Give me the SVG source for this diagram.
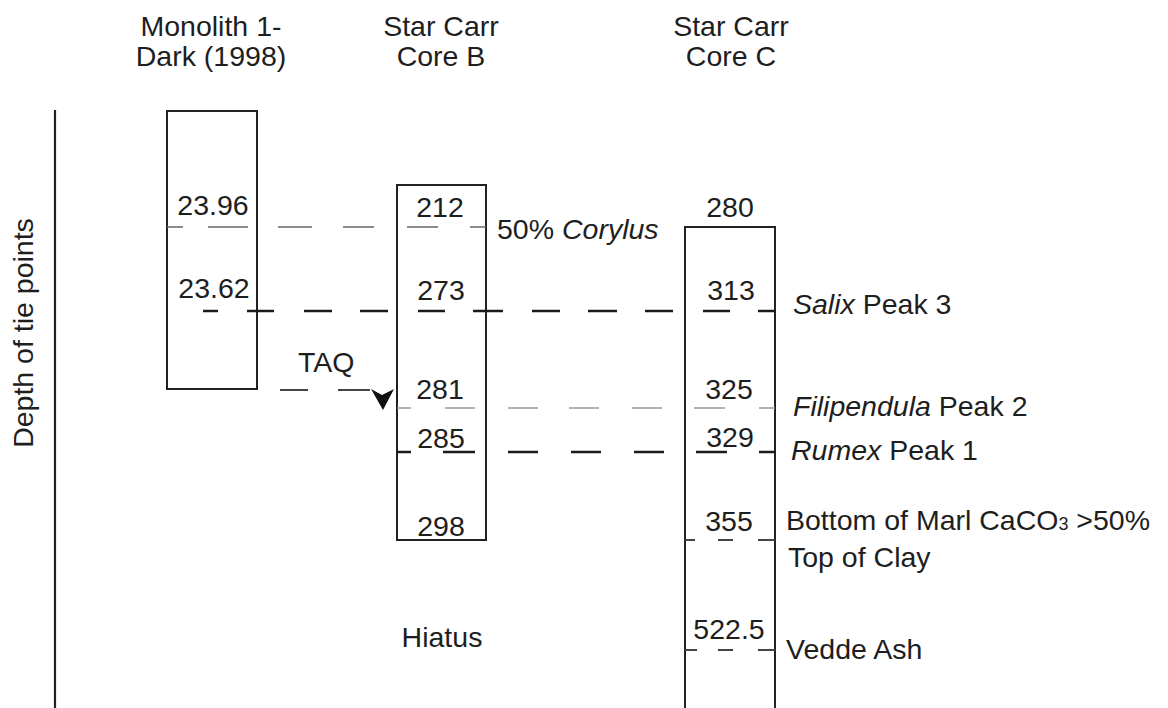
<svg xmlns="http://www.w3.org/2000/svg" width="1168" height="708" viewBox="0 0 1168 708">
<style>
text{font-family:"Liberation Sans",Arial,sans-serif;font-size:28.5px;fill:#1e1e1e}
.m{text-anchor:middle}
.box{fill:none;stroke:#222;stroke-width:2}
.thin{fill:none;stroke:#666;stroke-width:1.6}
.light{fill:none;stroke:#9a9a9a;stroke-width:1.6}
.thick{fill:none;stroke:#1a1a1a;stroke-width:2.6}
.mid{fill:none;stroke:#444;stroke-width:2}
</style>
<rect width="1168" height="708" fill="#fff"/>
<g id="axis">
<line x1="55" y1="110" x2="55" y2="708" stroke="#222" stroke-width="2.2"/>
<text transform="translate(33,333) rotate(-90)" class="m">Depth of tie points</text>
</g>
<g id="monolith">
<text x="211" y="36" class="m">Monolith 1-</text>
<text x="211" y="66" class="m">Dark (1998)</text>
<rect x="167" y="111" width="90" height="278" class="box"/>
<text x="213" y="215" class="m">23.96</text>
<text x="214" y="298" class="m">23.62</text>
</g>
<g id="coreB">
<text x="441" y="36" class="m">Star Carr</text>
<text x="441" y="66" class="m">Core B</text>
<rect x="397" y="185" width="89" height="355" class="box"/>
<text x="440" y="217" class="m">212</text>
<text x="441" y="300" class="m">273</text>
<text x="440" y="399" class="m">281</text>
<text x="441" y="448" class="m">285</text>
<text x="441" y="536" class="m">298</text>
<text x="442" y="647" class="m">Hiatus</text>
</g>
<g id="coreC">
<text x="731" y="36" class="m">Star Carr</text>
<text x="731" y="66" class="m">Core C</text>
<rect x="685" y="227" width="90" height="500" class="box"/>
<text x="730" y="217" class="m">280</text>
<text x="731" y="300" class="m">313</text>
<text x="729" y="399" class="m">325</text>
<text x="730" y="447" class="m">329</text>
<text x="729" y="531" class="m">355</text>
<text x="729" y="639" class="m">522.5</text>
</g>
<g id="labels">
<text x="497" y="239">50% <tspan font-style="italic">Corylus</tspan></text>
<text x="793" y="314"><tspan font-style="italic">Salix</tspan> Peak 3</text>
<text x="298" y="372">TAQ</text>
<text x="793" y="416"><tspan font-style="italic">Filipendula</tspan> Peak 2</text>
<text x="791" y="460"><tspan font-style="italic">Rumex</tspan> Peak 1</text>
<text x="786" y="530">Bottom of Marl CaCO<tspan font-size="18">3</tspan> &gt;50%</text>
<text x="788" y="567">Top of Clay</text>
<text x="786" y="659">Vedde Ash</text>
</g>
<g id="connectors">
<path class="thin" d="M167 227H183M208 227H248M278 227H312M343 227H374M407 227H438M470 227H486"/>
<path class="thick" d="M203 311H218M247 311H274M304 311H332M360 311H388M418 311H445M473 311H503M532 311H560M588 311H617M645 311H673M703 311H730M758 311H775"/>
<path class="mid" d="M280 390H308M338 390H370"/>
<polygon points="371,389 382,395 394,389 383,410" fill="#111"/>
<path class="light" d="M397 408H411M445 408H475M508 408H538M569 408H599M632 408H662M694 408H725M759 408H775"/>
<path class="thick" d="M397 452H411M443 452H475M508 452H538M571 452H601M634 452H664M696 452H727M759 452H775"/>
<path class="mid" d="M685 540H695M718 540H733M758 540H775"/>
<path class="mid" d="M685 650H697M718 650H733M758 650H775"/>
</g>
</svg>
